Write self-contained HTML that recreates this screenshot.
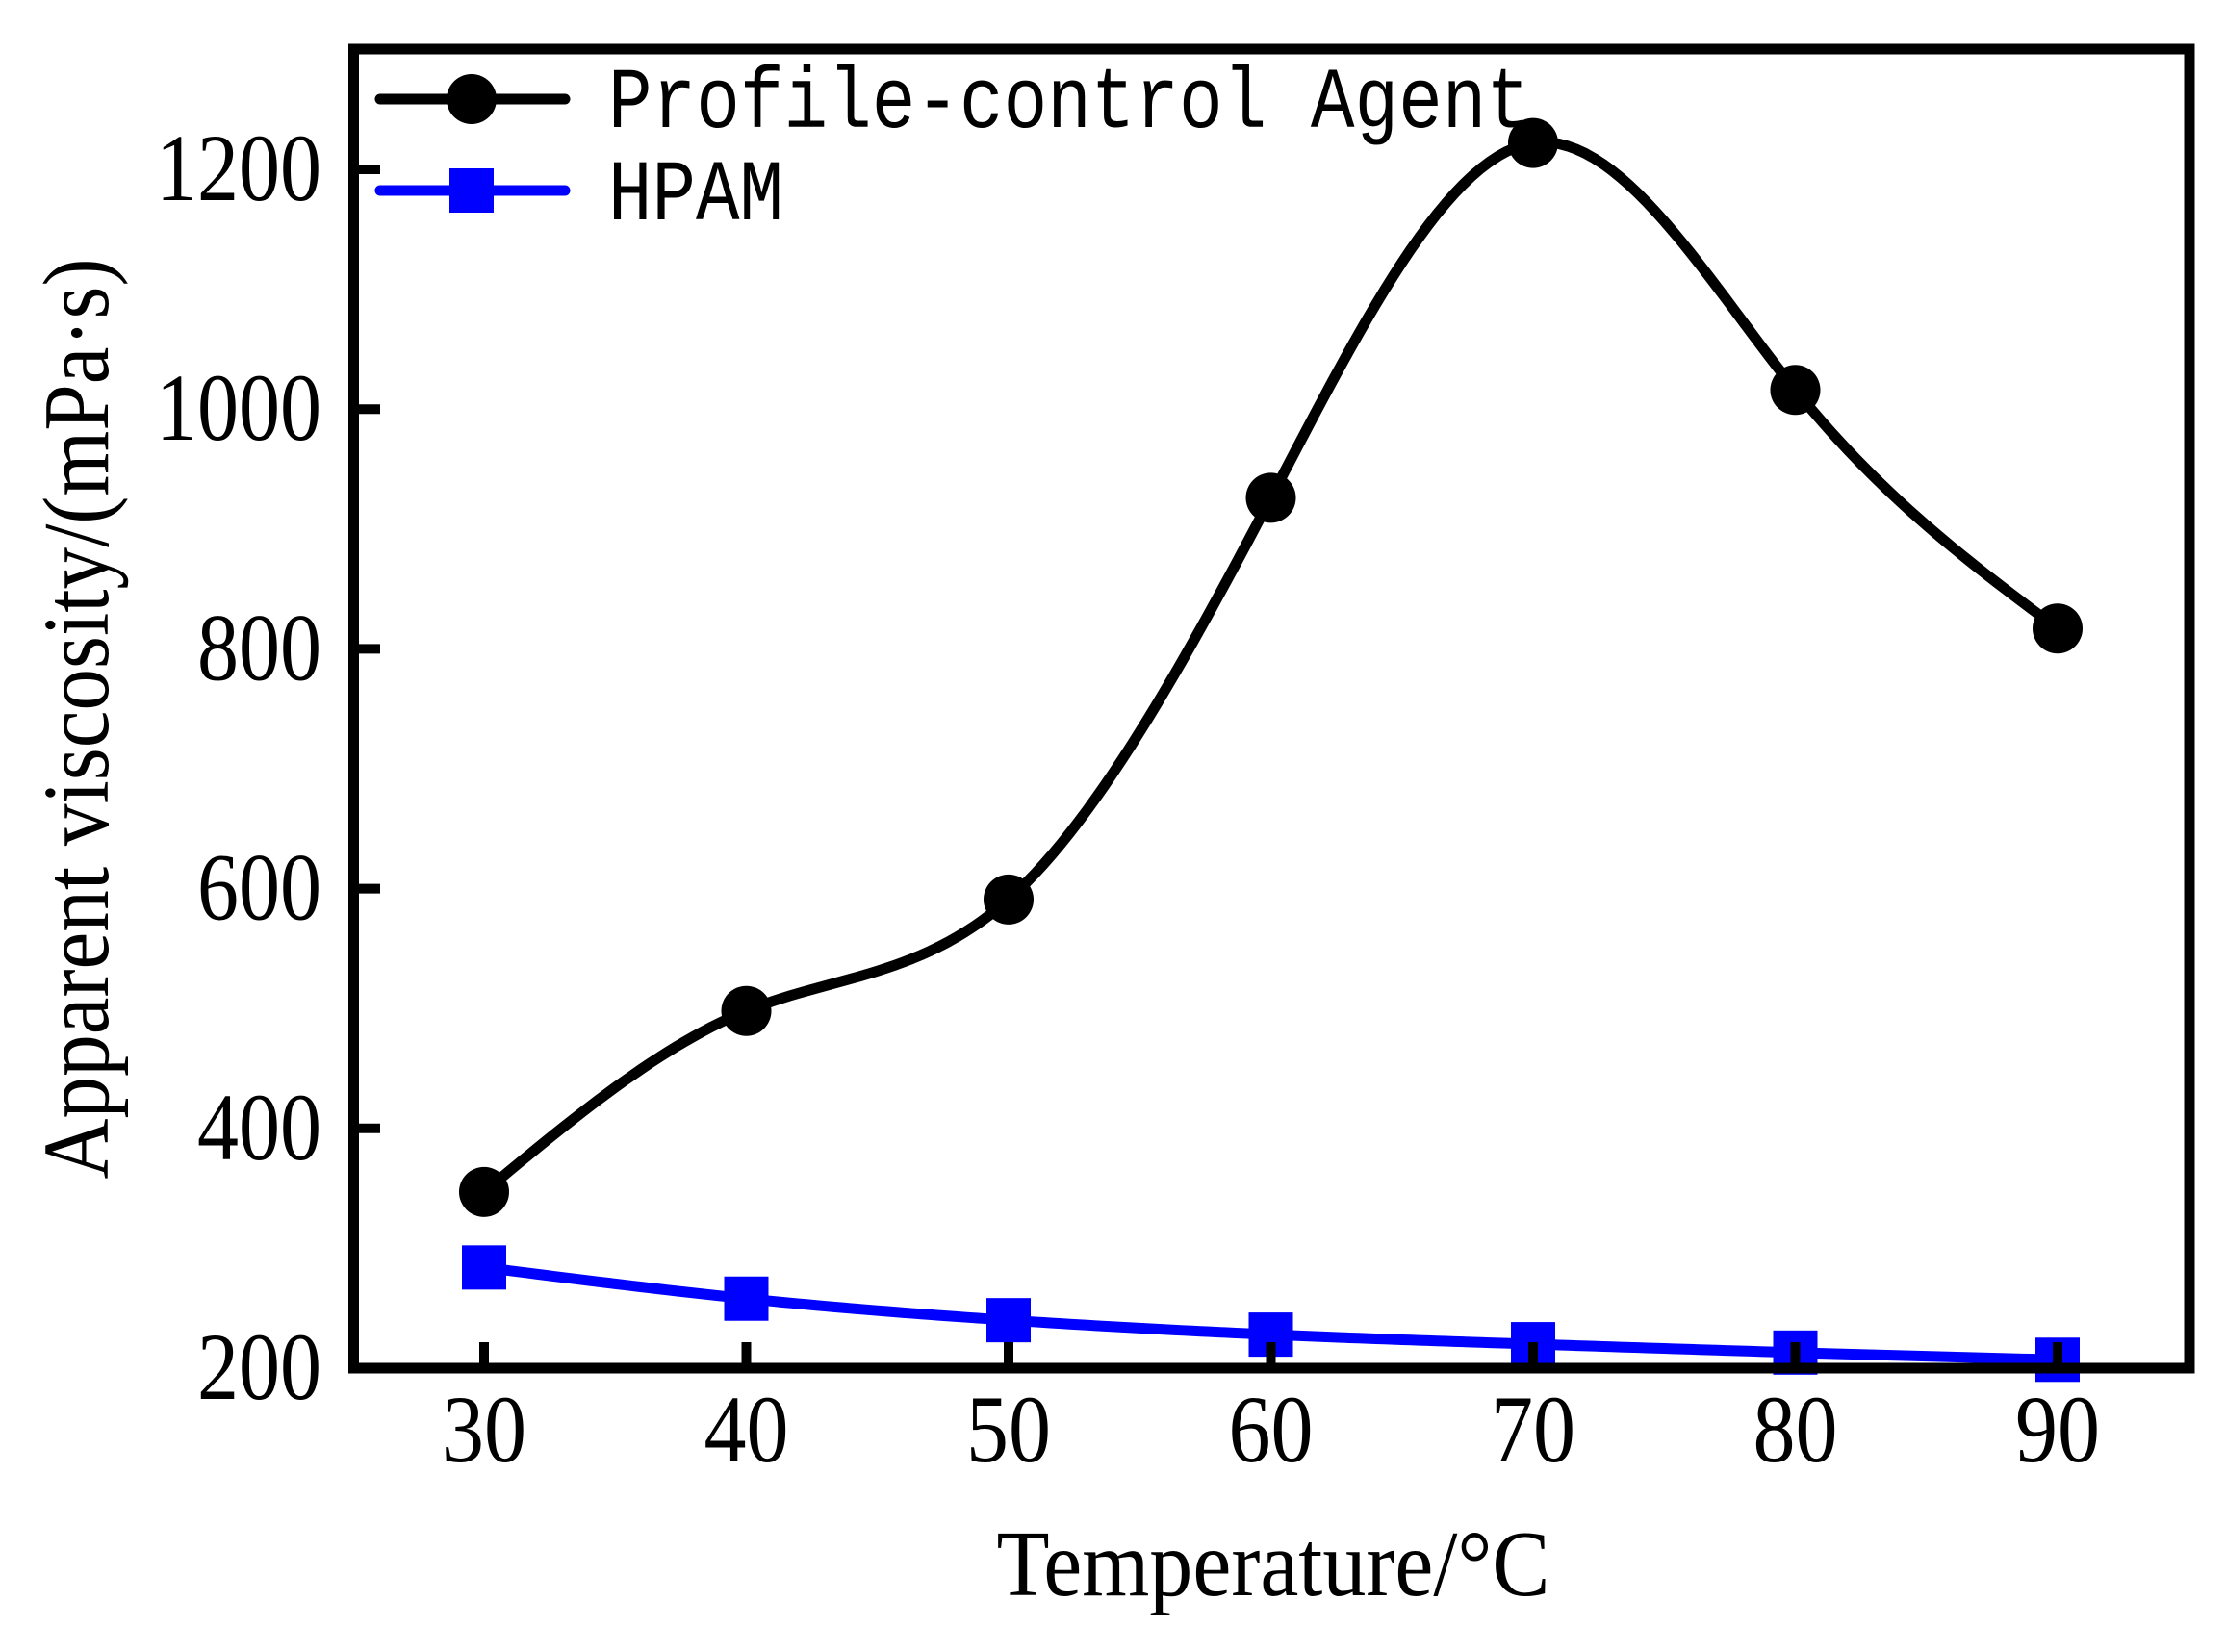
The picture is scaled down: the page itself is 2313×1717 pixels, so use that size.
<!DOCTYPE html>
<html><head><meta charset="utf-8"><style>
html,body{margin:0;padding:0;background:#fff;}
svg{display:block;}
</style></head><body>
<svg id="chart" width="2313" height="1717" viewBox="0 0 2313 1717" xmlns="http://www.w3.org/2000/svg">
<g id="marks"></g>
<rect x="367.5" y="51" width="1907.5" height="1371" fill="none" stroke="#000" stroke-width="11"/>
<g id="axes"></g>
<text x="112" y="747" transform="rotate(-90 112 747)" text-anchor="middle" font-family="Liberation Serif, serif" font-size="98" textLength="957" lengthAdjust="spacingAndGlyphs">Apparent viscosity/(mPa·s)</text>
<text x="1323" y="1658" text-anchor="middle" font-family="Liberation Serif, serif" font-size="98" textLength="575" lengthAdjust="spacingAndGlyphs">Temperature/°C</text>
<g>
  <g>
    <line x1="395" y1="103" x2="587" y2="103" stroke="#000" stroke-width="11" stroke-linecap="round"/>
    <circle cx="490" cy="103" r="26" fill="#000"/>
    <text x="632" y="132" font-family="Liberation Mono, monospace" font-size="90" textLength="958" lengthAdjust="spacingAndGlyphs">Profile-control Agent</text>
  </g>
  <g>
    <line x1="395" y1="198" x2="587" y2="198" stroke="#0000ff" stroke-width="11" stroke-linecap="round"/>
    <rect x="467" y="175" width="46" height="46" fill="#0000ff"/>
    <text x="632" y="228" font-family="Liberation Mono, monospace" font-size="90" textLength="182" lengthAdjust="spacingAndGlyphs">HPAM</text>
  </g>
</g>
</svg>
<script>
const temps = [30, 40, 50, 60, 70, 80, 90];
const profileValues = [347, 498, 591, 926, 1222, 1016, 817];
const hpamValues = [284, 258, 240, 228, 220, 213, 207];
const xTicks = [30, 40, 50, 60, 70, 80, 90];
const yTicks = [200, 400, 600, 800, 1000, 1200];

const NS = 'http://www.w3.org/2000/svg';
function xs(v){ return 503 + (v - 30) * 27.25; }
function ys(v){ return 1422 - (v - 200) * 1.246; }
function mk(tag, attrs, parent){
  const e = document.createElementNS(NS, tag);
  for (const k in attrs) e.setAttribute(k, attrs[k]);
  parent.appendChild(e);
  return e;
}
// natural cubic spline through pixel points
function spline(pts){
  const n = pts.length;
  const x = pts.map(p=>p[0]), y = pts.map(p=>p[1]);
  const h = [];
  for (let i=0;i<n-1;i++) h.push(x[i+1]-x[i]);
  const a = new Array(n).fill(0), b = new Array(n).fill(0), c = new Array(n).fill(0), d = new Array(n).fill(0);
  b[0]=1; b[n-1]=1;
  for (let i=1;i<n-1;i++){
    a[i]=h[i-1]; b[i]=2*(h[i-1]+h[i]); c[i]=h[i];
    d[i]=6*((y[i+1]-y[i])/h[i]-(y[i]-y[i-1])/h[i-1]);
  }
  for (let i=1;i<n;i++){ const m=a[i]/b[i-1]; b[i]-=m*c[i-1]; d[i]-=m*d[i-1]; }
  const M = new Array(n).fill(0);
  M[n-1]=d[n-1]/b[n-1];
  for (let i=n-2;i>=0;i--) M[i]=(d[i]-c[i]*M[i+1])/b[i];
  let s = 'M' + x[0] + ',' + y[0];
  for (let i=0;i<n-1;i++){
    const steps = 30;
    for (let k=1;k<=steps;k++){
      const t = x[i] + h[i]*k/steps;
      const A = (x[i+1]-t)/h[i], B = (t-x[i])/h[i];
      const v = A*y[i] + B*y[i+1] + ((A*A*A-A)*M[i] + (B*B*B-B)*M[i+1])*h[i]*h[i]/6;
      s += ' L' + t.toFixed(2) + ',' + v.toFixed(2);
    }
  }
  return s;
}
const marks = document.getElementById('marks');
const axes = document.getElementById('axes');

const pPts = temps.map((t,i)=>[xs(t), ys(profileValues[i])]);
const hPts = temps.map((t,i)=>[xs(t), ys(hpamValues[i])]);

const hLine = mk('path', {d: spline(hPts), fill:'none', stroke:'#0000ff', 'stroke-width':11, 'stroke-linejoin':'round'}, marks);


hPts.forEach((p,i)=>{
  const r = mk('rect', {x:p[0]-23, y:p[1]-23, width:46, height:46, fill:'#0000ff'}, marks);
  
  
});
const pLine = mk('path', {d: spline(pPts), fill:'none', stroke:'#000', 'stroke-width':11, 'stroke-linejoin':'round'}, marks);


pPts.forEach((p,i)=>{
  const c = mk('circle', {cx:p[0], cy:p[1], r:26, fill:'#000'}, marks);
  
  
});

xTicks.forEach(t=>{
  const x = xs(t);
  const tk = mk('line', {x1:x, y1:1422, x2:x, y2:1395, stroke:'#000', 'stroke-width':10}, axes);
  
  
  const lb = mk('text', {x:x, y:1519, 'text-anchor':'middle', 'font-family':'Liberation Serif, serif', 'font-size':100, textLength:88, lengthAdjust:'spacingAndGlyphs'}, axes);
  lb.textContent = t;
  
  
});
yTicks.forEach(v=>{
  const y = ys(v);
  const tk = mk('line', {x1:367, y1:y, x2:395, y2:y, stroke:'#000', 'stroke-width':10}, axes);
  
  
  const len = String(v).length * 43;
  const lb = mk('text', {x:334, y:y+32, 'text-anchor':'end', 'font-family':'Liberation Serif, serif', 'font-size':100, textLength:len, lengthAdjust:'spacingAndGlyphs'}, axes);
  lb.textContent = v;
  
  
});
</script>
</body></html>
